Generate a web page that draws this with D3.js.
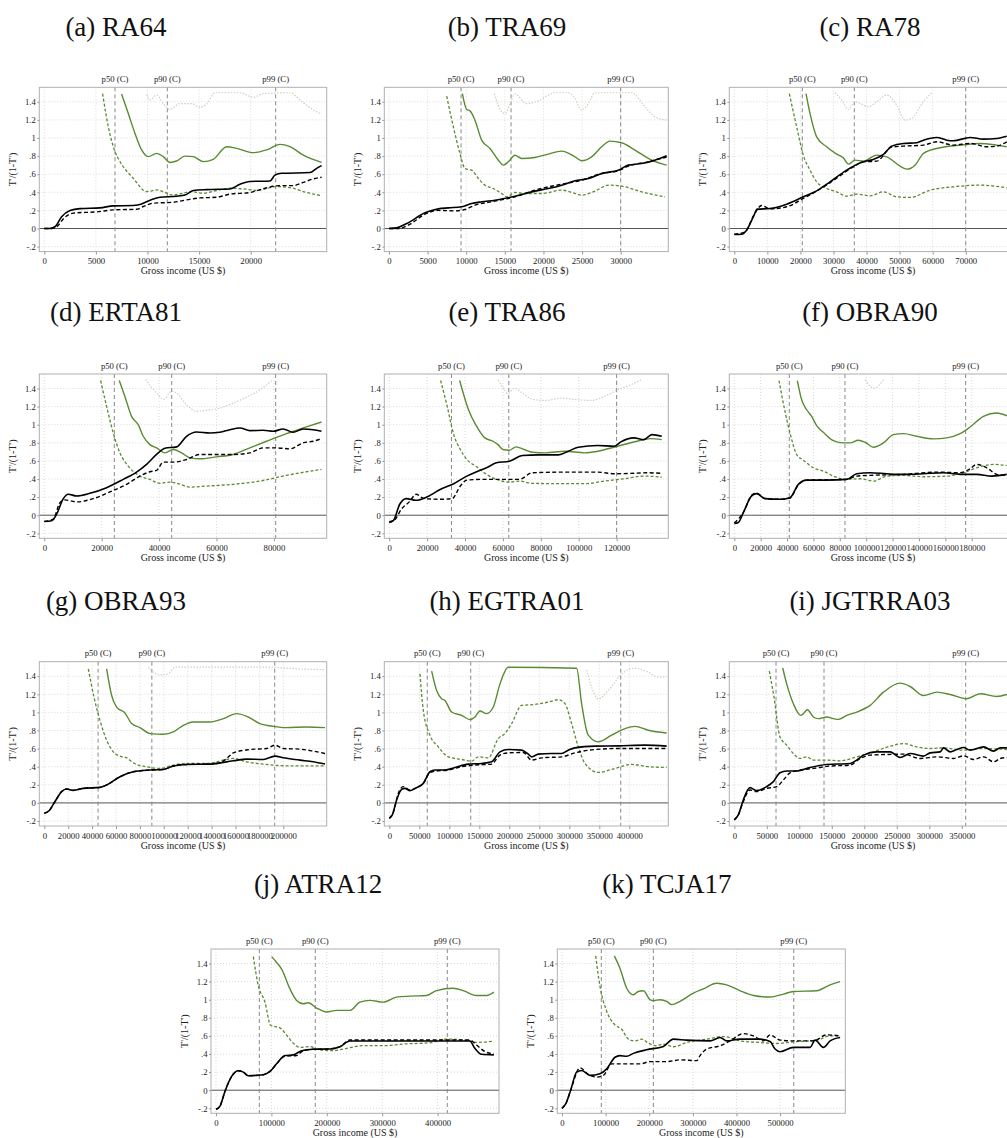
<!DOCTYPE html>
<html><head><meta charset="utf-8">
<script src="https://cdn.jsdelivr.net/npm/d3@7"></script>
<style>
body{margin:0;background:#fff;}
svg{display:block;font-family:"Liberation Serif","Times New Roman",serif;}
</style>
</head><body>
<svg id="chart" width="1007" height="1138"></svg>
<script>
// ---------------- DATA ----------------
const titles = ["(a) RA64","(b) TRA69","(c) RA78","(d) ERTA81","(e) TRA86","(f) OBRA90","(g) OBRA93","(h) EGTRA01","(i) JGTRRA03","(j) ATRA12","(k) TCJA17"];
const pctLabels = ["p50 (C)","p90 (C)","p99 (C)"];
const yTicks = [-0.2,0,0.2,0.4,0.6,0.8,1,1.2,1.4];
const yTickLabels = ["-.2","0",".2",".4",".6",".8","1","1.2","1.4"];
const yTitle = "T'/(1-T')";
const xTitle = "Gross income (US $)";

// x axis ranges (value at left / right edge of plot region) and tick values
const xRanges = [[-484,27364],[-608,36165],[-1512,85420],[-1742,98400],[-2593,147270],[-3791,214100],[-4184,236300],[-8333,465000],[-7692,434460],[-9025,510830],[-10780,649540]];
const xTicksA = [0,5000,10000,15000,20000];
const xTicksB = [0,5000,10000,15000,20000,25000,30000];
const xTicksC = [0,10000,20000,30000,40000,50000,60000,70000];
const xTicksD = [0,20000,40000,60000,80000];
const xTicksE = [0,20000,40000,60000,80000,100000,120000];
const xTicksF = [0,20000,40000,60000,80000,100000,120000,140000,160000,180000];
const xTicksG = [0,20000,40000,60000,80000,100000,120000,140000,160000,180000,200000];
const xTicksH = [0,50000,100000,150000,200000,250000,300000,350000,400000];
const xTicksI = [0,50000,100000,150000,200000,250000,300000,350000];
const xTicksJ = [0,100000,200000,300000,400000];
const xTicksK = [0,100000,200000,300000,400000,500000];

// percentile reference lines (p50, p90, p99)
const pctA = [6850,11920,22420];
const pctB = [9330,15800,30000];
const pctC = [20570,36300,70000];
const pctD = [24390,44390,80630];
const pctE = [32850,63100,120000];
const pctF = [41700,83900,175400];
const pctG = [45000,90000,192800];
const pctH = [63300,135700,385700];
const pctI = [64200,138000,356000];
const pctJ = [78200,179200,417500];
const pctK = [90100,209400,531400];

// (a) RA64
const a_blk = [[0,0],[480,0],[1030,0.02],[1680,0.13],[2490,0.2],[3460,0.22],[5390,0.228],[6690,0.25],[8620,0.254],[9430,0.27],[10080,0.305],[11210,0.345],[12820,0.357],[13630,0.37],[14440,0.42],[15730,0.43],[17990,0.437],[18960,0.49],[19930,0.52],[21870,0.525],[22350,0.59],[23000,0.61],[25740,0.618],[26390,0.665],[26870,0.695]];
const a_blkDash = [[0,0],[700,0],[1200,0.02],[2000,0.125],[2810,0.17],[5070,0.184],[6690,0.206],[8950,0.213],[9590,0.243],[10560,0.28],[12500,0.29],[13790,0.316],[15080,0.338],[16700,0.345],[17990,0.38],[19930,0.397],[21220,0.44],[22840,0.474],[24130,0.474],[25100,0.51],[26070,0.548],[26870,0.566]];
const a_grn = [[7490,1.485],[8140,1.27],[8790,1.05],[9430,0.868],[10080,0.794],[10890,0.83],[11530,0.794],[12180,0.73],[12820,0.746],[13630,0.8],[14440,0.794],[15410,0.739],[16380,0.765],[17670,0.904],[18640,0.886],[20250,0.838],[21540,0.868],[22840,0.93],[23810,0.904],[25100,0.81],[26870,0.73]];
const a_grnDash = [[5650,1.49],[6200,1.125],[6850,0.85],[7330,0.74],[8620,0.555],[9920,0.408],[10890,0.426],[12500,0.371],[13470,0.39],[14110,0.408],[15410,0.39],[16700,0.42],[17990,0.445],[19610,0.434],[20580,0.42],[22510,0.463],[23810,0.452],[25420,0.397],[26870,0.364]];
const a_dot = [[9920,1.48],[10240,1.42],[10890,1.475],[11530,1.38],[12180,1.316],[13150,1.38],[14280,1.38],[15080,1.34],[15730,1.375],[16540,1.5],[18960,1.5],[20250,1.45],[21220,1.49],[23810,1.5],[24780,1.42],[26070,1.31],[26870,1.265]];

// (b) TRA69
const b_blk = [[0,0],[990,0.007],[2290,0.055],[4660,0.173],[6390,0.217],[7680,0.228],[9410,0.24],[10700,0.276],[12000,0.295],[13720,0.313],[16310,0.357],[18900,0.413],[20630,0.442],[22360,0.479],[24080,0.527],[25810,0.553],[27540,0.608],[29690,0.645],[30990,0.7],[32710,0.718],[34440,0.755],[35950,0.803]];
const b_blkDash = [[0,0],[1210,0],[2500,0.037],[4660,0.158],[6390,0.2],[8550,0.195],[9840,0.21],[11130,0.258],[13290,0.295],[16310,0.35],[18900,0.424],[22360,0.49],[24950,0.534],[27540,0.608],[29690,0.637],[30990,0.69],[33580,0.737],[35950,0.79]];
const b_grn = [[9500,1.49],[10060,1.315],[10490,1.3],[11130,1.197],[12000,0.976],[13080,0.884],[14160,0.755],[14800,0.7],[15450,0.737],[16310,0.81],[17180,0.774],[18900,0.785],[20630,0.822],[22360,0.855],[24080,0.792],[24950,0.748],[26240,0.792],[27540,0.903],[28610,0.965],[30120,0.947],[31850,0.866],[34010,0.755],[35950,0.7]];
const b_grnDash = [[7470,1.463],[8330,1.124],[9190,0.829],[9840,0.663],[10700,0.645],[11570,0.553],[12430,0.479],[13510,0.442],[14590,0.387],[15240,0.35],[16310,0.398],[17610,0.387],[19770,0.387],[22360,0.424],[24080,0.387],[24950,0.368],[26670,0.413],[28400,0.479],[30120,0.468],[32710,0.405],[35740,0.35]];
const b_dot = [[13640,1.49],[14590,1.29],[15020,1.27],[15670,1.38],[16310,1.485],[17820,1.38],[19330,1.41],[20630,1.474],[21490,1.5],[23220,1.5],[24080,1.437],[24950,1.308],[25810,1.38],[26670,1.5],[31420,1.5],[33150,1.345],[34440,1.234],[35950,1.197]];

// (c) RA78
const c_blk = [[0,-0.066],[2220,-0.063],[3730,-0.018],[5750,0.129],[6960,0.214],[10790,0.221],[15840,0.269],[20880,0.35],[24910,0.416],[28950,0.516],[33990,0.645],[39040,0.737],[42060,0.763],[45090,0.818],[47610,0.91],[51140,0.94],[55170,0.947],[57190,0.976],[61230,1.006],[64250,0.976],[66270,0.969],[71310,1.006],[75350,0.987],[79380,0.995],[82410,1.02]];
const c_blkDash = [[0,-0.063],[3230,-0.037],[5750,0.136],[8270,0.254],[10790,0.217],[15840,0.24],[20880,0.332],[28950,0.505],[36010,0.682],[39040,0.737],[43070,0.744],[47610,0.9],[51140,0.91],[57190,0.921],[61230,0.958],[66270,0.921],[71310,0.94],[76360,0.903],[79380,0.91],[82410,0.958]];
const c_grn = [[21690,1.49],[22900,1.271],[24910,1.013],[27940,0.903],[30970,0.822],[32980,0.781],[34500,0.711],[36510,0.755],[39040,0.744],[43070,0.811],[46100,0.792],[50130,0.689],[52150,0.656],[54670,0.7],[57190,0.829],[61230,0.884],[68290,0.921],[74340,0.94],[79380,0.921],[82410,0.903]];
const c_grnDash = [[16640,1.49],[18860,1.124],[20880,0.81],[22900,0.645],[24910,0.516],[27940,0.442],[30970,0.405],[33990,0.357],[37020,0.38],[41050,0.361],[45090,0.405],[49120,0.35],[53160,0.343],[59210,0.424],[66270,0.461],[74340,0.479],[82410,0.45]];
const c_dot = [[30460,1.5],[32480,1.419],[34500,1.315],[36510,1.4],[38530,1.374],[40550,1.345],[43070,1.4],[46100,1.474],[49120,1.363],[51640,1.197],[53660,1.216],[57190,1.4],[59710,1.5]];

// (d) ERTA81
const d_blk = [[0,-0.07],[2550,-0.062],[4290,0.011],[6620,0.183],[8360,0.231],[11260,0.213],[15900,0.242],[21710,0.304],[27510,0.396],[32150,0.476],[35640,0.561],[39120,0.671],[42020,0.74],[46080,0.755],[49560,0.872],[53050,0.92],[57690,0.909],[61170,0.916],[64660,0.945],[68140,0.964],[71620,0.934],[76260,0.938],[79740,0.927],[83230,0.953],[86710,0.916],[90190,0.953],[93680,0.945],[96580,0.927]];
const d_blkDash = [[0,-0.07],[3130,-0.044],[5460,0.139],[7200,0.169],[11260,0.147],[17060,0.183],[22870,0.257],[28670,0.341],[33320,0.432],[36800,0.48],[39120,0.495],[41440,0.586],[44920,0.586],[49560,0.616],[54210,0.671],[60010,0.671],[65810,0.671],[71620,0.689],[76260,0.744],[80900,0.744],[85550,0.733],[90190,0.799],[93680,0.817],[96580,0.846]];
const d_grn = [[26120,1.488],[28090,1.312],[30410,1.092],[32730,1.0],[34470,0.872],[36800,0.78],[39120,0.744],[42020,0.689],[44920,0.726],[47820,0.689],[50720,0.634],[54210,0.623],[60010,0.645],[65810,0.671],[71620,0.744],[77420,0.817],[84380,0.901],[91350,0.975],[96580,1.03]];
const d_grnDash = [[19620,1.488],[21710,1.202],[24030,0.909],[26350,0.689],[29250,0.542],[33320,0.432],[36800,0.396],[40280,0.352],[43760,0.366],[46660,0.348],[50720,0.311],[56530,0.322],[65810,0.341],[75100,0.377],[84380,0.44],[91350,0.48],[96580,0.506]];
const d_dot = [[35290,1.5],[39120,1.35],[41670,1.28],[44340,1.37],[46080,1.35],[49560,1.22],[53050,1.147],[56530,1.158],[61170,1.183],[65810,1.238],[70460,1.304],[75100,1.385],[79740,1.5]];

// (e) TRA86
const e_blk = [[0,-0.073],[2070,-0.062],[5530,0.121],[8990,0.183],[14170,0.165],[20220,0.205],[27140,0.286],[34050,0.348],[40970,0.432],[46150,0.48],[51340,0.524],[56530,0.579],[63440,0.597],[70350,0.66],[78990,0.667],[89370,0.667],[94560,0.707],[99740,0.751],[110110,0.77],[118760,0.762],[122210,0.81],[129130,0.854],[134310,0.835],[138630,0.89],[143820,0.872]];
const e_blkDash = [[0,-0.08],[2940,-0.051],[6400,0.066],[10720,0.15],[14170,0.231],[18500,0.183],[27140,0.176],[33190,0.183],[37510,0.322],[40970,0.388],[49610,0.396],[58250,0.396],[68630,0.396],[75540,0.469],[92830,0.476],[110110,0.476],[118760,0.458],[127400,0.462],[136040,0.469],[143820,0.462]];
const e_grn = [[37170,1.488],[40100,1.275],[41830,1.165],[46150,0.982],[50480,0.854],[54800,0.817],[57390,0.78],[59980,0.726],[63440,0.718],[66900,0.755],[71220,0.726],[75540,0.696],[82460,0.689],[92830,0.707],[103200,0.689],[110110,0.707],[120480,0.762],[130860,0.817],[137770,0.846],[143820,0.835]];
const e_grnDash = [[27140,1.488],[30600,1.202],[34050,0.89],[37510,0.726],[40970,0.616],[46150,0.535],[51340,0.451],[56530,0.396],[63440,0.366],[68630,0.377],[75540,0.352],[92830,0.348],[103200,0.348],[113570,0.377],[123940,0.403],[134310,0.432],[143820,0.421]];
const e_dot = [[57390,1.495],[60850,1.385],[62580,1.341],[66030,1.403],[70350,1.348],[75540,1.282],[82460,1.268],[91100,1.293],[99740,1.275],[106660,1.268],[113570,1.312],[120480,1.385],[127400,1.44],[133450,1.5]];

// (f) OBRA90
const f_blk = [[0,-0.092],[3030,-0.081],[6830,0.029],[13150,0.213],[16940,0.238],[23260,0.183],[34640,0.176],[42230,0.194],[48550,0.341],[54870,0.388],[70040,0.388],[85210,0.396],[92790,0.458],[102910,0.469],[115550,0.458],[128190,0.451],[143360,0.458],[158530,0.469],[171180,0.451],[183820,0.451],[195200,0.432],[206570,0.451]];
const f_blkDash = [[0,-0.085],[6830,0.03],[13150,0.22],[16940,0.245],[23260,0.183],[34640,0.176],[42230,0.19],[48550,0.335],[54870,0.388],[85210,0.396],[92790,0.432],[102910,0.44],[128190,0.451],[153480,0.476],[171180,0.469],[178760,0.513],[183820,0.561],[191400,0.524],[198990,0.451],[206570,0.44]];
const f_grn = [[47790,1.488],[51080,1.275],[54870,1.165],[58660,1.092],[62450,0.989],[67510,0.916],[75100,0.824],[82680,0.799],[87740,0.799],[94060,0.828],[99120,0.806],[105440,0.751],[113020,0.799],[120610,0.89],[128190,0.901],[138310,0.872],[150950,0.843],[161060,0.854],[171180,0.901],[178760,0.975],[188880,1.092],[198990,1.129],[206570,1.099]];
const f_grnDash = [[33880,1.488],[38430,1.147],[42230,0.909],[47290,0.671],[52340,0.608],[59930,0.524],[67510,0.487],[75100,0.432],[85210,0.396],[95320,0.403],[105440,0.377],[115550,0.432],[128190,0.44],[143360,0.425],[161060,0.432],[173700,0.469],[183820,0.524],[196460,0.561],[206570,0.55]];
const f_dot = [[99120,1.495],[105950,1.403],[113020,1.495]];

// (g) OBRA93
const g_blk = [[0,-0.114],[4180,-0.084],[8930,0.015],[14500,0.125],[18690,0.154],[24270,0.139],[32640,0.161],[46580,0.172],[52160,0.198],[63320,0.289],[74480,0.344],[88420,0.363],[99580,0.37],[107950,0.407],[119110,0.425],[138630,0.429],[158160,0.465],[169320,0.484],[183260,0.48],[193030,0.517],[200000,0.498],[213950,0.473],[225100,0.454],[234870,0.429]];
const g_blkDash = [[0,-0.114],[4180,-0.084],[8930,0.015],[14500,0.125],[18690,0.154],[24270,0.139],[32640,0.161],[46580,0.172],[52160,0.198],[63320,0.289],[74480,0.344],[88420,0.363],[99580,0.37],[107950,0.407],[119110,0.425],[138630,0.429],[147000,0.443],[152580,0.49],[158160,0.553],[172110,0.59],[186050,0.601],[193030,0.638],[200000,0.601],[213950,0.594],[225100,0.572],[234870,0.546]];
const g_grn = [[52160,1.48],[56350,1.187],[60530,1.059],[67500,0.993],[73080,0.876],[80050,0.832],[88420,0.766],[99580,0.759],[107950,0.784],[116320,0.857],[124690,0.894],[138630,0.894],[149790,0.931],[160950,0.986],[169320,0.957],[180470,0.876],[191630,0.846],[202790,0.832],[219530,0.839],[234870,0.832]];
const g_grnDash = [[36820,1.48],[41560,1.169],[46580,0.912],[52160,0.693],[57740,0.564],[63320,0.517],[68890,0.498],[74480,0.443],[85630,0.399],[96790,0.381],[107950,0.418],[119110,0.436],[135840,0.436],[152580,0.48],[158160,0.491],[169320,0.454],[186050,0.425],[202790,0.41],[234870,0.41]];
const g_dot = [[87020,1.5],[91210,1.444],[96790,1.414],[103760,1.425],[109340,1.5],[186050,1.5],[200000,1.49],[213950,1.48],[234870,1.473]];

// (h) EGTRA01
const h_blk = [[0,-0.169],[5000,-0.132],[12220,0.033],[20560,0.15],[26110,0.161],[34440,0.136],[45560,0.169],[56670,0.216],[67780,0.344],[76110,0.363],[92780,0.363],[109440,0.392],[131670,0.429],[153890,0.436],[170560,0.454],[184440,0.564],[198330,0.59],[220560,0.583],[231670,0.539],[237220,0.509],[248330,0.539],[270560,0.546],[287220,0.546],[298330,0.583],[309440,0.608],[342780,0.627],[381670,0.63],[426110,0.638],[462220,0.627]];
const h_blkDash = [[0,-0.169],[6670,-0.106],[15000,0.106],[23330,0.18],[34440,0.143],[45560,0.169],[56670,0.216],[67780,0.337],[81670,0.355],[98330,0.363],[120560,0.4],[142780,0.418],[170560,0.429],[184440,0.528],[198330,0.553],[223330,0.557],[237220,0.473],[253890,0.498],[287220,0.509],[309440,0.553],[342780,0.59],[381670,0.601],[462220,0.601]];
const h_grn = [[70560,1.455],[78890,1.242],[87220,1.151],[92780,1.132],[103890,1.004],[120560,0.967],[134440,0.92],[142780,0.949],[151110,1.015],[162220,0.986],[173330,1.059],[184440,1.315],[198330,1.499],[312220,1.488],[320560,1.096],[331670,0.748],[348330,0.674],[370560,0.748],[392780,0.821],[409440,0.846],[431670,0.803],[462220,0.773]];
const h_grnDash = [[51110,1.425],[56670,1.022],[67780,0.748],[81670,0.619],[98330,0.509],[120560,0.48],[137220,0.462],[148330,0.509],[165000,0.498],[181670,0.711],[192780,0.766],[203890,0.876],[220560,1.077],[242780,1.088],[265000,1.114],[281670,1.14],[292780,1.096],[303890,0.876],[315000,0.619],[326110,0.436],[348330,0.337],[370560,0.37],[403890,0.425],[431670,0.4],[462220,0.392]];
const h_dot = [[328890,1.47],[337220,1.279],[348330,1.15],[365000,1.242],[387220,1.425],[409440,1.488],[431670,1.444],[448330,1.389],[462220,1.396]];

// (i) JGTRRA03
const i_blk = [[0,-0.187],[6160,-0.132],[13860,0.033],[24130,0.169],[34390,0.136],[49790,0.18],[60060,0.235],[70330,0.333],[80600,0.352],[95990,0.352],[116530,0.392],[142200,0.425],[178130,0.436],[188400,0.473],[198670,0.528],[219200,0.564],[239730,0.564],[255130,0.502],[270530,0.546],[291070,0.517],[301330,0.553],[316730,0.564],[321870,0.608],[332140,0.564],[342400,0.59],[352670,0.612],[362940,0.583],[383470,0.619],[398870,0.572],[409140,0.608],[419400,0.608]];
const i_blkDash = [[0,-0.187],[6160,-0.132],[13860,0.015],[24130,0.143],[34390,0.125],[49790,0.161],[65200,0.18],[75470,0.253],[85730,0.333],[101130,0.363],[121660,0.381],[147330,0.407],[178130,0.418],[193530,0.491],[208930,0.528],[234600,0.535],[260270,0.539],[285940,0.491],[311600,0.509],[337270,0.491],[352670,0.52],[368070,0.48],[383470,0.509],[398870,0.454],[409140,0.491],[419400,0.502]];
const i_grn = [[74440,1.491],[80600,1.315],[90860,1.096],[102160,0.967],[106260,0.986],[112420,1.03],[121660,0.949],[129360,0.931],[142200,0.949],[152460,0.931],[160160,0.923],[172990,0.967],[188400,1.004],[208930,1.077],[229470,1.224],[255130,1.323],[270530,1.286],[291070,1.187],[311600,1.224],[332140,1.198],[357800,1.151],[378340,1.206],[404000,1.176],[419400,1.198]];
const i_grnDash = [[53900,1.455],[61090,1.169],[70330,0.729],[80600,0.638],[90860,0.546],[101130,0.491],[111400,0.509],[121660,0.473],[142200,0.473],[162730,0.465],[188400,0.509],[214070,0.564],[239730,0.627],[260270,0.656],[280810,0.619],[301330,0.601],[321870,0.608],[352670,0.583],[383470,0.601],[419400,0.59]];
const i_dot = [];

// (j) ATRA12
const j_blk = [[0,-0.211],[7220,-0.175],[16240,-0.011],[28260,0.153],[40290,0.215],[49310,0.2],[58330,0.16],[73360,0.164],[85390,0.171],[97410,0.208],[109440,0.292],[124470,0.383],[139510,0.39],[154540,0.437],[175590,0.452],[205650,0.456],[223690,0.481],[241730,0.543],[337940,0.543],[458210,0.543],[467230,0.463],[479250,0.397],[501500,0.39]];
const j_blkDash = [[0,-0.211],[7220,-0.175],[16240,-0.011],[28260,0.153],[40290,0.215],[49310,0.2],[58330,0.16],[73360,0.164],[85390,0.171],[97410,0.208],[109440,0.292],[124470,0.375],[145520,0.383],[157550,0.437],[175590,0.452],[205650,0.456],[223690,0.481],[241730,0.554],[398080,0.554],[458210,0.554],[470240,0.5],[485270,0.427],[501500,0.401]];
const j_grn = [[100420,1.476],[109440,1.411],[118460,1.338],[133490,1.119],[145520,0.992],[157550,0.955],[166570,0.966],[181600,0.908],[199640,0.864],[217680,0.882],[241730,0.882],[259770,0.973],[277810,0.992],[301860,0.973],[325920,1.028],[349970,1.039],[380040,1.046],[398080,1.101],[428140,1.127],[446180,1.101],[470240,1.046],[488270,1.046],[501500,1.083]];
const j_grnDash = [[67350,1.476],[76370,1.156],[88390,0.973],[98420,0.718],[115450,0.689],[127480,0.609],[139510,0.518],[151530,0.474],[169570,0.481],[187610,0.445],[211660,0.437],[235720,0.463],[265780,0.492],[301860,0.492],[337940,0.51],[386050,0.525],[416120,0.565],[446180,0.554],[470240,0.529],[501500,0.543]];
const j_dot = [];

// (k) TCJA17
const k_blk = [[0,-0.2],[9170,-0.145],[19880,0],[33640,0.2],[45110,0.218],[64220,0.164],[87160,0.182],[102450,0.236],[121560,0.364],[133030,0.382],[148320,0.375],[163610,0.407],[194190,0.447],[232420,0.484],[255350,0.564],[285930,0.553],[339450,0.545],[362390,0.582],[377680,0.545],[408260,0.564],[454130,0.564],[477060,0.538],[488530,0.455],[500000,0.425],[530580,0.473],[568810,0.473],[580280,0.553],[599390,0.473],[614680,0.545],[637610,0.582]];
const k_blkDash = [[0,-0.2],[9170,-0.145],[19880,0],[41280,0.247],[60400,0.175],[79510,0.145],[94800,0.164],[113910,0.291],[133030,0.291],[178900,0.291],[201830,0.316],[240060,0.316],[270640,0.335],[308870,0.327],[316510,0.382],[331800,0.455],[362390,0.491],[385320,0.545],[415900,0.625],[438840,0.6],[461770,0.545],[477060,0.611],[500000,0.553],[530580,0.545],[576450,0.545],[607030,0.611],[637610,0.6]];
const k_grn = [[120030,1.484],[133030,1.345],[148320,1.127],[163610,1.055],[175080,1.091],[186540,1.098],[201830,1.0],[209480,0.989],[224770,1.0],[240060,0.982],[251530,0.945],[270640,0.982],[301220,1.073],[324160,1.12],[354740,1.182],[377680,1.164],[408260,1.098],[438840,1.047],[477060,1.029],[507650,1.062],[530580,1.091],[584100,1.098],[614680,1.164],[637610,1.2]];
const k_grnDash = [[77220,1.484],[87160,1.145],[102450,0.873],[121560,0.72],[136850,0.673],[152140,0.564],[167430,0.545],[182720,0.564],[198010,0.52],[217130,0.491],[232420,0.509],[255350,0.48],[285930,0.527],[331800,0.564],[370030,0.593],[408260,0.545],[454130,0.527],[492350,0.516],[530580,0.535],[584100,0.553],[614680,0.6],[637610,0.6]];
const k_dot = [];

// ---------------- LAYOUT / STYLE ----------------
const yDom = [-0.255, 1.56];
const plotH = 164.3;
const rowTop = [87.3, 374, 661.7, 949];
const rects = [
  {l:39.3,t:rowTop[0],w:287.4,tx:116},{l:384.3,t:rowTop[0],w:284,tx:507},{l:729.3,t:rowTop[0],w:287.4,tx:870},
  {l:39.3,t:rowTop[1],w:287.4,tx:116},{l:384.3,t:rowTop[1],w:284,tx:507},{l:729.3,t:rowTop[1],w:287.4,tx:870},
  {l:39.3,t:rowTop[2],w:287.4,tx:116},{l:384.3,t:rowTop[2],w:284,tx:507},{l:729.3,t:rowTop[2],w:287.4,tx:870},
  {l:211,t:rowTop[3],w:288,tx:318},{l:557.3,t:rowTop[3],w:288,tx:667}
];
const titleDy = [51.3, 53, 51.3, 56];
const GREEN = "#5a8a32";
const seriesStyle = {
  dot:{stroke:"#cfcfc3",width:1.2,dash:"1.5,1.5"},
  grnDash:{stroke:GREEN,width:1.3,dash:"3,2"},
  grn:{stroke:GREEN,width:1.4,dash:null},
  blkDash:{stroke:"#000",width:1.4,dash:"4,2.5"},
  blk:{stroke:"#000",width:1.6,dash:null}
};

const panels = [
  {xTicks:xTicksA,pct:pctA,s:{dot:a_dot,grnDash:a_grnDash,grn:a_grn,blkDash:a_blkDash,blk:a_blk}},
  {xTicks:xTicksB,pct:pctB,s:{dot:b_dot,grnDash:b_grnDash,grn:b_grn,blkDash:b_blkDash,blk:b_blk}},
  {xTicks:xTicksC,pct:pctC,s:{dot:c_dot,grnDash:c_grnDash,grn:c_grn,blkDash:c_blkDash,blk:c_blk}},
  {xTicks:xTicksD,pct:pctD,s:{dot:d_dot,grnDash:d_grnDash,grn:d_grn,blkDash:d_blkDash,blk:d_blk}},
  {xTicks:xTicksE,pct:pctE,s:{dot:e_dot,grnDash:e_grnDash,grn:e_grn,blkDash:e_blkDash,blk:e_blk}},
  {xTicks:xTicksF,pct:pctF,s:{dot:f_dot,grnDash:f_grnDash,grn:f_grn,blkDash:f_blkDash,blk:f_blk}},
  {xTicks:xTicksG,pct:pctG,s:{dot:g_dot,grnDash:g_grnDash,grn:g_grn,blkDash:g_blkDash,blk:g_blk}},
  {xTicks:xTicksH,pct:pctH,s:{dot:h_dot,grnDash:h_grnDash,grn:h_grn,blkDash:h_blkDash,blk:h_blk}},
  {xTicks:xTicksI,pct:pctI,s:{dot:i_dot,grnDash:i_grnDash,grn:i_grn,blkDash:i_blkDash,blk:i_blk}},
  {xTicks:xTicksJ,pct:pctJ,s:{dot:j_dot,grnDash:j_grnDash,grn:j_grn,blkDash:j_blkDash,blk:j_blk}},
  {xTicks:xTicksK,pct:pctK,s:{dot:k_dot,grnDash:k_grnDash,grn:k_grn,blkDash:k_blkDash,blk:k_blk}}
];

const svg = d3.select("#chart");
svg.append("rect").attr("width",1007).attr("height",1138).attr("fill","#fff");

panels.forEach((p, i) => {
  const R = rects[i];
  const row = Math.min(3, Math.floor(i / 3));
  const g = svg.append("g");
  const x = d3.scaleLinear().domain(xRanges[i]).range([R.l, R.l + R.w]);
  const y = d3.scaleLinear().domain(yDom).range([R.t + plotH, R.t]);

  const clipId = "clip" + i;
  g.append("clipPath").attr("id", clipId).append("rect")
    .attr("x", R.l).attr("y", R.t).attr("width", R.w).attr("height", plotH);

  // grid
  const grid = g.append("g");
  yTicks.filter(v => v !== 0).forEach(v => {
    grid.append("line").attr("x1", R.l).attr("x2", R.l + R.w).attr("y1", y(v)).attr("y2", y(v))
      .attr("stroke", "#d0d0d0").attr("stroke-width", 0.8).attr("stroke-dasharray", "1,2");
  });
  p.xTicks.forEach(v => {
    grid.append("line").attr("x1", x(v)).attr("x2", x(v)).attr("y1", R.t).attr("y2", R.t + plotH)
      .attr("stroke", "#d0d0d0").attr("stroke-width", 0.8).attr("stroke-dasharray", "1,2");
  });

  // zero line
  g.append("line").attr("x1", R.l).attr("x2", R.l + R.w).attr("y1", y(0)).attr("y2", y(0))
    .attr("stroke", "#555").attr("stroke-width", 1);

  // percentile lines + labels
  p.pct.forEach((v, k) => {
    g.append("line").attr("x1", x(v)).attr("x2", x(v)).attr("y1", R.t).attr("y2", R.t + plotH)
      .attr("stroke", "#888").attr("stroke-width", 1).attr("stroke-dasharray", "4,3");
    g.append("text").attr("x", x(v)).attr("y", R.t - 5.5).attr("text-anchor", "middle")
      .attr("font-size", 8.7).attr("fill", "#222").text(pctLabels[k]);
  });

  // series
  const line = d3.line().x(d => x(d[0])).y(d => y(d[1])).curve(d3.curveMonotoneX);
  const sg = g.append("g").attr("clip-path", `url(#${clipId})`);
  ["dot","grnDash","grn","blkDash","blk"].forEach(key => {
    const data = p.s[key];
    if (!data || !data.length) return;
    const st = seriesStyle[key];
    sg.append("path").attr("d", line(data)).attr("fill", "none")
      .attr("stroke", st.stroke).attr("stroke-width", st.width)
      .attr("stroke-linejoin", "round")
      .attr("stroke-dasharray", st.dash);
  });

  // frame
  g.append("rect").attr("x", R.l).attr("y", R.t).attr("width", R.w).attr("height", plotH)
    .attr("fill", "none").attr("stroke", "#b0b0b0").attr("stroke-width", 1);

  // axes
  const ya = g.append("g").attr("transform", `translate(${R.l},0)`)
    .call(d3.axisLeft(y).tickValues(yTicks).tickFormat((d, k) => yTickLabels[k]).tickSizeInner(2).tickSizeOuter(0).tickPadding(1.5));
  ya.select(".domain").remove();
  ya.selectAll("line").attr("stroke", "#999");
  ya.selectAll("text").attr("font-size", 8.7).attr("fill", "#222").attr("font-family", "Liberation Serif, serif");

  const xa = g.append("g").attr("transform", `translate(0,${R.t + plotH})`)
    .call(d3.axisBottom(x).tickValues(p.xTicks).tickFormat(d3.format("d")).tickSizeInner(3).tickSizeOuter(0).tickPadding(3.5));
  xa.select(".domain").remove();
  xa.selectAll("line").attr("stroke", "#999");
  xa.selectAll("text").attr("font-size", 8.7).attr("fill", "#222").attr("font-family", "Liberation Serif, serif");

  // axis titles
  g.append("text").attr("x", R.l + R.w / 2).attr("y", R.t + plotH + 22.5).attr("text-anchor", "middle")
    .attr("font-size", 10).attr("fill", "#222").text(xTitle);
  g.append("text").attr("transform", `translate(${R.l - 23},${R.t + plotH / 2}) rotate(-90)`)
    .attr("text-anchor", "middle").attr("font-size", 10).attr("fill", "#222").text(yTitle);

  // panel title
  g.append("text").attr("x", R.tx).attr("y", R.t - titleDy[row]).attr("text-anchor", "middle")
    .attr("font-size", 27).attr("fill", "#111").text(titles[i]);
});
</script>
</body></html>
